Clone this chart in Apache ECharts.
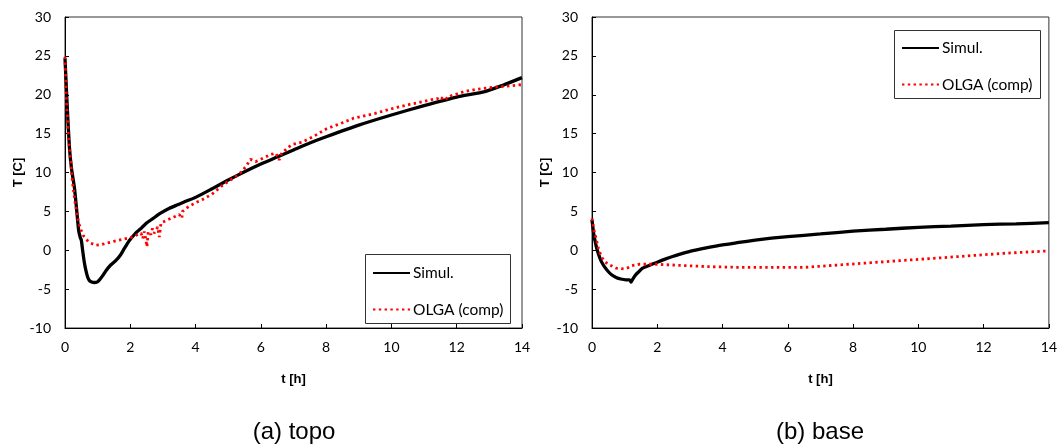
<!DOCTYPE html>
<html>
<head>
<meta charset="utf-8">
<script src="https://cdn.jsdelivr.net/npm/echarts@6/dist/echarts.min.js"></script>
<style>
  html, body { margin: 0; padding: 0; background: #ffffff; }
  #chart { width: 1060px; height: 446px; }
</style>
</head>
<body>
<div id="chart"></div>
<script>
// Temperature histories [t (h), T (C)]
const topoSimul = [[0,24.7],[0.04,21],[0.08,17.5],[0.14,13],[0.2,10.5],[0.29,8],[0.35,5.5],[0.42,2.5],[0.47,1.6],[0.5,1.3],[0.54,0],[0.59,-1.5],[0.64,-2.6],[0.69,-3.4],[0.74,-3.85],[0.8,-4.05],[0.9,-4.15],[0.98,-4.1],[1.05,-3.85],[1.15,-3.3],[1.26,-2.6],[1.4,-1.9],[1.56,-1.3],[1.7,-0.6],[1.8,0.1],[1.9,0.8],[1.99,1.35],[2.1,1.9],[2.2,2.35],[2.35,2.9],[2.5,3.5],[2.7,4.1],[2.9,4.7],[3.2,5.4],[3.45,5.85],[3.7,6.3],[4.0,6.8],[4.5,7.9],[4.94,8.9],[5.5,10.1],[6.0,11.1],[6.5,12.0],[7.0,12.9],[7.5,13.8],[8.0,14.6],[9.0,16.1],[10.0,17.4],[11.0,18.6],[12.0,19.7],[12.86,20.4],[13.4,21.2],[14.0,22.2]];
const topoOlga = [[0,24.9],[0.05,19],[0.1,15],[0.19,10.7],[0.23,8.7],[0.3,6.4],[0.34,5.4],[0.4,3.9],[0.44,3.3],[0.5,2.5],[0.56,1.9],[0.65,1.4],[0.77,0.95],[0.95,0.65],[1.1,0.7],[1.26,0.9],[1.5,1.15],[1.77,1.4],[2.07,1.7],[2.2,1.95],[2.33,2.2],[2.38,1.5],[2.43,2.4],[2.48,1.3],[2.51,0.45],[2.55,2.4],[2.58,2.6],[2.63,2.0],[2.68,2.8],[2.73,2.2],[2.79,2.6],[2.84,3.0],[2.89,1.7],[2.94,3.5],[3.04,3.7],[3.14,3.9],[3.35,4.3],[3.5,4.6],[3.55,4.8],[3.58,4.1],[3.6,5.0],[3.8,5.65],[4.0,6.1],[4.2,6.5],[4.5,7.2],[4.84,8.4],[5.13,9.2],[5.36,9.9],[5.55,10.8],[5.68,11.7],[5.84,11.4],[6.1,11.9],[6.3,12.3],[6.45,12.5],[6.52,12.0],[6.56,11.6],[6.6,12.0],[6.63,12.4],[6.8,13.1],[6.95,13.6],[7.26,13.9],[7.6,14.6],[8.0,15.6],[8.5,16.4],[8.85,17.0],[9.5,17.6],[10.0,18.2],[10.6,18.8],[11.17,19.3],[11.4,19.5],[11.5,19.3],[11.6,19.8],[11.7,19.5],[11.85,19.9],[12.0,20.1],[12.23,20.4],[12.6,20.7],[12.97,20.9],[13.5,21.1],[14.0,21.3]];
const baseSimul = [[0,3.9],[0.05,2.2],[0.13,0.5],[0.2,-0.5],[0.28,-1.4],[0.38,-2.1],[0.49,-2.7],[0.6,-3.15],[0.74,-3.5],[0.88,-3.7],[1.04,-3.8],[1.15,-3.8],[1.2,-4.1],[1.25,-3.7],[1.35,-3.1],[1.45,-2.7],[1.55,-2.3],[1.75,-1.95],[1.96,-1.6],[2.2,-1.2],[2.47,-0.8],[2.7,-0.5],[3.0,-0.15],[3.5,0.3],[4.0,0.7],[4.5,1.0],[5.0,1.3],[5.5,1.55],[6.0,1.75],[7.0,2.1],[8.0,2.45],[9.0,2.7],[10.0,2.95],[11.0,3.1],[12.0,3.3],[13.0,3.4],[14.0,3.55]];
const baseOlga = [[0,4.1],[0.05,2.8],[0.13,1.4],[0.2,0.2],[0.28,-0.8],[0.38,-1.4],[0.49,-1.8],[0.74,-2.3],[0.99,-2.4],[1.1,-2.25],[1.2,-2.0],[1.45,-1.8],[1.96,-1.8],[2.47,-1.9],[3.48,-2.1],[4.49,-2.2],[5.5,-2.2],[6.5,-2.2],[7.54,-1.9],[8.55,-1.6],[9.57,-1.3],[10.6,-1.0],[11.6,-0.7],[12.6,-0.4],[13.93,-0.1]];

// Axis ranges and labels
const tRange = { min: 0, max: 14, step: 2 };
const TRange = { min: -10, max: 30, step: 5 };
const seriesNames = ['Simul.', 'OLGA (comp)'];
const xTitle = 't [h]';
const yTitle = 'T [C]';
const captions = ['(a) topo', '(b) base'];

const chart = echarts.init(document.getElementById('chart'), null, { renderer: 'canvas' });

const tickFont = { fontFamily: 'Lato', fontSize: 14, color: '#000' };
const titleFont = { fontFamily: 'Liberation Sans', fontSize: 13, fontWeight: 'bold', color: '#000' };

function xAxisFor(gridIndex) {
  return {
    type: 'value', gridIndex,
    min: tRange.min, max: tRange.max, interval: tRange.step,
    name: xTitle, nameLocation: 'middle', nameGap: 45, nameTextStyle: titleFont,
    axisLine: { show: true, onZero: false, lineStyle: { color: '#000', width: 1 } },
    axisTick: { show: true, inside: true, length: 4, lineStyle: { color: '#000' } },
    axisLabel: Object.assign({ margin: 12 }, tickFont),
    splitLine: { show: false }
  };
}
function yAxisFor(gridIndex) {
  return {
    type: 'value', gridIndex,
    min: TRange.min, max: TRange.max, interval: TRange.step,
    name: yTitle, nameLocation: 'middle', nameRotate: 90, nameGap: 40, nameTextStyle: titleFont,
    axisLine: { show: true, onZero: false, lineStyle: { color: '#000', width: 1 } },
    axisTick: { show: true, inside: true, length: 4, lineStyle: { color: '#000' } },
    axisLabel: Object.assign({ margin: 14 }, tickFont),
    splitLine: { show: false }
  };
}
function simulSeries(idx, data) {
  return {
    name: seriesNames[0], type: 'line', xAxisIndex: idx, yAxisIndex: idx,
    data, symbol: 'none', showSymbol: false, smooth: 0.2,
    lineStyle: { color: '#000', width: 3.3 }, itemStyle: { color: '#000' },
    z: 3
  };
}
function olgaSeries(idx, data) {
  return {
    name: seriesNames[1], type: 'line', xAxisIndex: idx, yAxisIndex: idx,
    data, symbol: 'none', showSymbol: false, smooth: false,
    lineStyle: { color: '#ff0000', width: 2.8, type: [2.4, 3.4] }, itemStyle: { color: '#ff0000' },
    z: 4
  };
}
function legendAt(left, top) {
  return {
    data: seriesNames, orient: 'vertical', left, top, padding: 0,
    itemWidth: 37, itemHeight: 14, itemGap: 20.5, selectedMode: false,
    itemStyle: { opacity: 0 },
    textStyle: { fontFamily: 'Lato', fontSize: 15.5, color: '#000', padding: [0, 0, 0, -2] }
  };
}

chart.setOption({
  animation: false,
  backgroundColor: '#ffffff',
  grid: [
    { left: 65, top: 17, width: 457, height: 311, show: true, borderColor: '#333', borderWidth: 1, containLabel: false },
    { left: 592, top: 17, width: 460, height: 311, show: true, borderColor: '#333', borderWidth: 1, containLabel: false }
  ],
  xAxis: [xAxisFor(0), xAxisFor(1)],
  yAxis: [yAxisFor(0), yAxisFor(1)],
  legend: [legendAt(372, 265), legendAt(901, 40)],
  series: [
    simulSeries(0, topoSimul), olgaSeries(0, topoOlga),
    simulSeries(1, baseSimul), olgaSeries(1, baseOlga)
  ],
  graphic: [
    { type: 'rect', shape: { x: 365.5, y: 254.5, width: 145, height: 69 }, style: { fill: 'transparent', stroke: '#333', lineWidth: 1 }, z: 1 },
    { type: 'rect', shape: { x: 894.5, y: 30.5, width: 146, height: 68 }, style: { fill: 'transparent', stroke: '#333', lineWidth: 1 }, z: 1 },
    { type: 'text', style: { text: captions[0], x: 294, y: 432, fill: '#000', font: '24px "Liberation Sans"', textAlign: 'center', textVerticalAlign: 'middle' } },
    { type: 'text', style: { text: captions[1], x: 820, y: 432, fill: '#000', font: '24px "Liberation Sans"', textAlign: 'center', textVerticalAlign: 'middle' } }
  ]
});
</script>
</body>
</html>
